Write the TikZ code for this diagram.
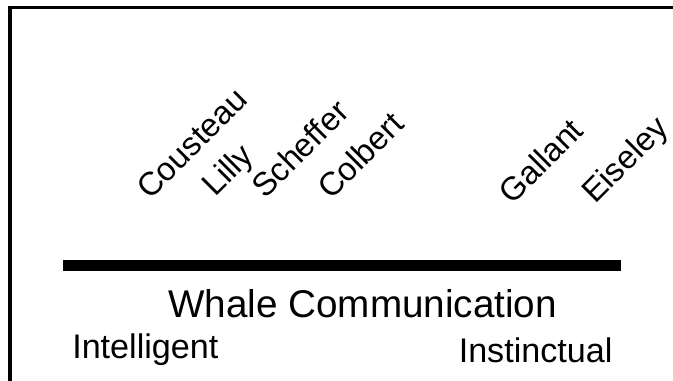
\documentclass[tikz,border=0pt]{standalone}
\usepackage{fontspec}
\setmainfont{Liberation Sans}
\usetikzlibrary{positioning}
\tikzstyle{frameline}=[line width=2.6pt, black]
\tikzstyle{scale bar}=[line width=8.25pt, black]
\tikzstyle{author}=[rotate=45, anchor=base west, inner sep=0pt, font=\fontsize{24.5}{26}\selectfont]
\tikzstyle{pole}=[anchor=base west, inner sep=0pt, font=\fontsize{25.6}{28}\selectfont]
\tikzstyle{title}=[anchor=base, inner sep=0pt, font=\fontsize{29}{31}\selectfont]

\begin{document}
\begin{tikzpicture}[x=0.75pt, y=-0.75pt]
    \useasboundingbox (0,0) rectangle (673,381);

%frame, cut at right and bottom
    \draw[frameline] (9.8,381) -- (9.8,7.5) -- (673,7.5);

%the scale
    \draw[scale bar] (62.7,265.5) -- (620.7,265.5);
    \node (whale) [title] at (362.6,317.3) {Whale Communication};
    \node (intel) [pole] at (72,358.3) {Intelligent};
    \node (inst) [pole] at (458.5,362.3) {Instinctual};

%names along the scale
    \node (cousteau) [author] at (150,201) {Cousteau};
    \node (lilly) [author] at (215,198) {Lilly};
    \node (scheffer) [author] at (265,200) {Scheffer};
    \node (colbert) [author] at (331,201) {Colbert};
    \node (gallant) [author] at (512,206) {Gallant};
    \node (eiseley) [author] at (595,205) {Eiseley};

\end{tikzpicture}
\end{document}
